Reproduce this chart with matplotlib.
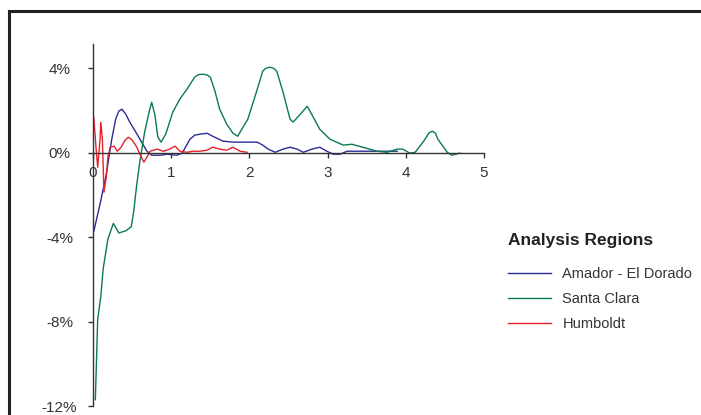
import matplotlib
matplotlib.use("Agg")
import matplotlib.pyplot as plt
from matplotlib.lines import Line2D

# valores (x, variação em %)
amador_x = [0.01, 0.09, 0.17, 0.24, 0.29, 0.33, 0.37, 0.42, 0.47, 0.54, 0.60, 0.69, 0.75,
            0.86, 0.95, 1.07, 1.14, 1.19, 1.24, 1.30, 1.37, 1.46, 1.53, 1.66, 1.79, 1.97,
            2.10, 2.17, 2.24, 2.33, 2.43, 2.52, 2.61, 2.69, 2.80, 2.90, 2.99, 3.07, 3.16,
            3.25, 3.38, 3.54, 3.71, 3.89]
amador_y = [-3.72, -2.44, -1.02, 0.64, 1.59, 1.97, 2.06, 1.82, 1.45, 1.02, 0.64, 0.07, -0.12,
            -0.12, -0.07, -0.12, -0.02, 0.31, 0.64, 0.83, 0.88, 0.92, 0.78, 0.55, 0.50, 0.50,
            0.50, 0.36, 0.17, 0.02, 0.17, 0.26, 0.17, 0.02, 0.17, 0.26, 0.07, -0.07, -0.07,
            0.07, 0.07, 0.07, 0.07, 0.07]

santa_clara_x = [0.03, 0.06, 0.10, 0.13, 0.19, 0.26, 0.33, 0.42, 0.49, 0.52, 0.56, 0.60, 0.66,
                 0.72, 0.75, 0.79, 0.83, 0.87, 0.93, 1.02, 1.11, 1.20, 1.30, 1.35, 1.41, 1.46,
                 1.50, 1.56, 1.62, 1.71, 1.79, 1.85, 1.98, 2.10, 2.17, 2.21, 2.26, 2.31, 2.35,
                 2.43, 2.52, 2.56, 2.65, 2.74, 2.81, 2.90, 3.03, 3.20, 3.31, 3.45, 3.63, 3.76,
                 3.89, 3.96, 4.05, 4.12, 4.22, 4.30, 4.34, 4.38, 4.41, 4.53, 4.59, 4.69]
santa_clara_y = [-11.7, -7.9, -6.8, -5.5, -4.1, -3.35, -3.8, -3.7, -3.5, -2.8, -1.5, -0.4, 0.97,
                 1.97, 2.39, 1.82, 0.73, 0.50, 0.88, 1.92, 2.54, 3.0, 3.58, 3.70, 3.72, 3.68,
                 3.58, 2.91, 2.06, 1.35, 0.92, 0.78, 1.59, 3.0, 3.86, 4.0, 4.05, 4.0, 3.86,
                 2.87, 1.59, 1.45, 1.82, 2.2, 1.73, 1.11, 0.64, 0.36, 0.40, 0.26, 0.07, 0.02,
                 0.17, 0.17, -0.02, 0.02, 0.50, 0.95, 1.02, 0.92, 0.64, 0.02, -0.12, -0.02]

humboldt_x = [0.01, 0.04, 0.06, 0.09, 0.10, 0.12, 0.14, 0.17, 0.19, 0.22, 0.27, 0.31, 0.36,
              0.41, 0.45, 0.49, 0.52, 0.56, 0.60, 0.65, 0.69, 0.73, 0.82, 0.90, 0.98, 1.05,
              1.11, 1.20, 1.28, 1.37, 1.46, 1.53, 1.62, 1.71, 1.79, 1.88, 1.97]
humboldt_y = [1.68, 0.17, -0.69, 0.64, 1.44, 0.64, -1.87, -1.16, -0.21, 0.26, 0.31, 0.07, 0.26,
              0.59, 0.73, 0.64, 0.50, 0.26, -0.07, -0.45, -0.21, 0.07, 0.17, 0.07, 0.17, 0.31,
              0.07, 0.02, 0.07, 0.07, 0.12, 0.26, 0.17, 0.12, 0.26, 0.07, 0.02]

series_names = ['Amador - El Dorado', 'Santa Clara', 'Humboldt']
series_colors = ['#2b2b96', '#0b7a4e', '#e8202a']
x_ticks = [0, 1, 2, 3, 4, 5]
y_ticks = [-12, -8, -4, 0, 4]
y_labels = ['-12%', '-8%', '-4%', '0%', '4%']

plt.rcParams['font.family'] = ['Liberation Sans', 'DejaVu Sans']
W, H = 701, 415
fig = plt.figure(figsize=(W / 100, H / 100), dpi=100)

# moldura cortada (só esquerda e topo)
fig.add_artist(Line2D([9 / W, 9 / W], [0, 1 - 11 / H], color='#222222', lw=2.2,
                      transform=fig.transFigure))
fig.add_artist(Line2D([9 / W, 1], [1 - 11 / H, 1 - 11 / H], color='#222222', lw=2.2,
                      transform=fig.transFigure))

ax = fig.add_axes([93 / W, 1 - 406 / H, (484 - 93) / W, (406 - 44) / H])
ax.set_xlim(0, 5)
ax.set_ylim(-12, 5.15)

for xs, ys, name, col in zip([amador_x, santa_clara_x, humboldt_x],
                             [amador_y, santa_clara_y, humboldt_y],
                             series_names, series_colors):
    ax.plot(xs, ys, color=col, lw=1.0, label=name, solid_joinstyle='round')

for s in ['top', 'right']:
    ax.spines[s].set_visible(False)
ax.spines['left'].set_position(('data', 0))
ax.spines['bottom'].set_position(('data', 0))
for s in ['left', 'bottom']:
    ax.spines[s].set_color('#333333')
    ax.spines[s].set_linewidth(1.0)

ax.set_xticks(x_ticks)
ax.set_xticklabels([str(v) for v in x_ticks])
ax.set_yticks(y_ticks)
ax.set_yticklabels(y_labels)
ax.tick_params(axis='x', direction='out', length=3.5, width=1.0, color='#333333',
               pad=6, labelsize=11, labelcolor='#333333')
ax.tick_params(axis='y', direction='out', length=3.6, width=1.0, color='#333333',
               pad=20.5, labelsize=11, labelcolor='#333333')
# rótulos do eixo y centralizados
for lbl in ax.get_yticklabels():
    lbl.set_horizontalalignment('center')

leg = fig.legend(loc='upper left', bbox_to_anchor=(496 / W, 1 - 221 / H), frameon=False,
                 title='Analysis Regions', fontsize=10.5, handlelength=2.95,
                 labelspacing=0.76, handletextpad=0.8, borderpad=0.3)
leg.get_title().set_fontweight('bold')
leg.get_title().set_fontsize(12.5)
leg.get_title().set_color('#222222')
leg._legend_box.align = 'left'
leg._legend_box.sep = 14
for t in leg.get_texts():
    t.set_color('#333333')

fig.savefig('out.png', dpi=100)
